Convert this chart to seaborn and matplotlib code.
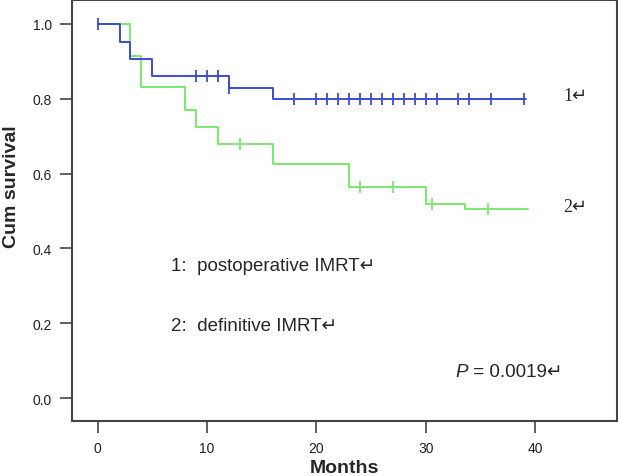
import numpy as np
import pandas as pd
import matplotlib
matplotlib.use("Agg")
import matplotlib.pyplot as plt
import seaborn as sns

# ---- data ----
# Group 1: postoperative IMRT (blue)
times_1 = [0, 2, 3, 5, 12, 16, 39.2]
surv_1 = [1.0, 0.951, 0.906, 0.861, 0.828, 0.799, 0.799]
censor_1 = [0, 9, 10, 11, 12, 18, 20, 21, 22, 23, 24, 25, 26, 27, 28, 29,
            30, 31, 33, 34, 36, 39]

# Group 2: definitive IMRT (green)
times_2 = [0, 3, 4, 8, 9, 11, 16, 23, 30, 33.6, 39.4]
surv_2 = [1.0, 0.915, 0.831, 0.771, 0.725, 0.679, 0.625, 0.564, 0.518, 0.506, 0.506]
censor_2 = [13, 24, 27, 30.6, 35.7]

x_ticks = [0, 10, 20, 30, 40]
y_ticks = [0.0, 0.2, 0.4, 0.6, 0.8, 1.0]

blue = "#3A4BD8"
green = "#7BE86F"

sns.set_style("white")
plt.rcParams["font.family"] = ["Liberation Sans", "DejaVu Sans"]

fig = plt.figure(figsize=(6.18, 4.77), dpi=100)
ax = fig.add_axes([72 / 618, 1 - 421.7 / 477, (617 - 72) / 618, 421.7 / 477 - 0.002])


def censor_y(times, surv, cens):
    t = np.asarray(times)
    s = np.asarray(surv)
    idx = np.searchsorted(t, np.asarray(cens), side="right") - 1
    return s[idx]


for times, surv, cens, col in [(times_1, surv_1, censor_1, blue),
                               (times_2, surv_2, censor_2, green)][::-1]:
    df = pd.DataFrame({"t": times, "s": surv})
    sns.lineplot(data=df, x="t", y="s", drawstyle="steps-post", color=col,
                 lw=1.4, ax=ax, estimator=None, sort=False)
    dc = pd.DataFrame({"t": cens, "s": censor_y(times, surv, cens)})
    sns.scatterplot(data=dc, x="t", y="s", marker="|", s=80, color=col,
                    linewidth=1.3, ax=ax, zorder=3)

ax.set_xlim(-2.35, 47.5)
ax.set_ylim(-0.0605, 1.064)
ax.set_xticks(x_ticks)
ax.set_xticklabels([str(v) for v in x_ticks])
ax.set_yticks(y_ticks)
ax.set_yticklabels([f"{v:.1f}" for v in y_ticks])
ax.tick_params(axis="both", direction="out", length=8.5, width=1.2,
               color="#444444", labelsize=10, labelcolor="#222222", pad=6,
               left=True, bottom=True)
for sp in ax.spines.values():
    sp.set_color("#444444")
    sp.set_linewidth(1.5)

ax.set_xlabel("Months", fontsize=14, fontweight="bold", labelpad=3)
ax.set_ylabel("Cum survival", fontsize=14, fontweight="bold")
ax.yaxis.set_label_coords(-0.0954, 0.559)

serif = ["Liberation Serif", "DejaVu Sans"]
sans = ["Liberation Sans", "DejaVu Sans"]
ax.text(42.6, 0.797, "1\u21b5", fontsize=13, family=serif, va="baseline", ha="left")
ax.text(42.6, 0.4995, "2\u21b5", fontsize=13, family=serif, va="baseline", ha="left")
ax.text(6.68, 0.342, "1:  postoperative IMRT\u21b5", fontsize=13.5, family=sans,
        va="baseline", ha="left")
ax.text(6.68, 0.182, "2:  definitive IMRT\u21b5", fontsize=13.5, family=sans,
        va="baseline", ha="left")
ptxt = ax.text(32.7, 0.059, "P", fontsize=13.5, family=sans, style="italic",
               va="baseline", ha="left")
ax.annotate(" = 0.0019\u21b5", xy=(1, 0), xycoords=ptxt, fontsize=13.5,
            family=sans, va="bottom", ha="left")

fig.savefig("out.png", dpi=100)
